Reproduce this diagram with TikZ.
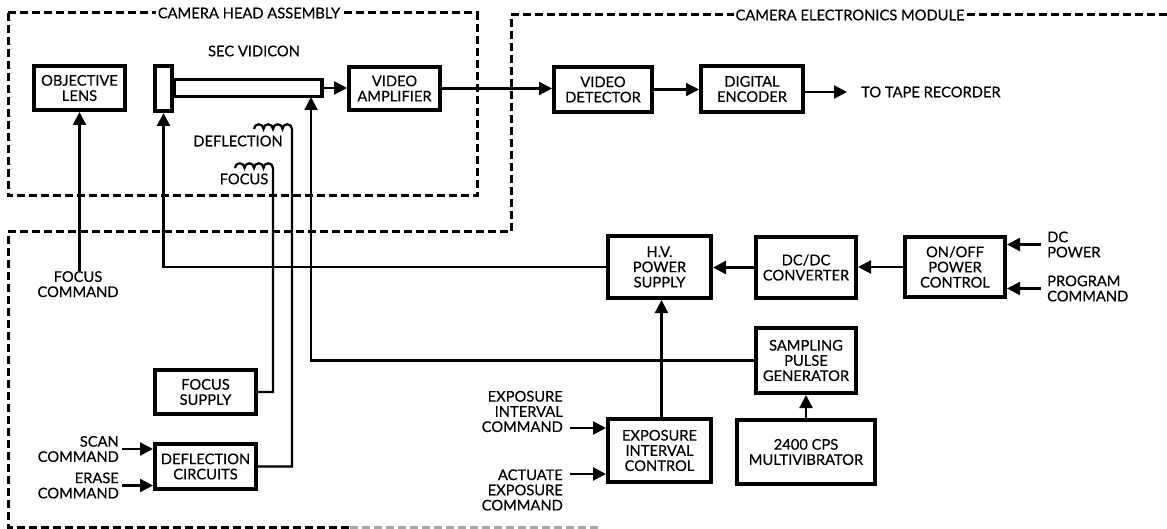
\documentclass[tikz,border=0pt]{standalone}
\usepackage{fontspec}
\setmainfont{Lato}[FakeBold=0.35]
\usetikzlibrary{arrows.meta,positioning,calc}
\tikzset{
  blockbox/.style={draw=black,line width=3.6pt,inner sep=0pt,align=center},
  sigline/.style={draw=black,line width=2.2pt},
  sigarrow/.style={sigline,-{Triangle[length=13pt,width=13pt]}},
  frameline/.style={draw=black,line width=3pt,dash pattern=on 8pt off 4pt},
  framelabel/.style={fill=white,inner xsep=1.5pt,inner ysep=1pt},
  cmdlabel/.style={inner sep=0pt,align=right,anchor=east},
  inlabel/.style={inner sep=0pt,align=left,anchor=west},
}
\begin{document}
\begin{tikzpicture}[x=1pt,y=-1pt,font=\fontsize{14.7}{15.2}\selectfont]
  \useasboundingbox (0,0) rectangle (1167,529);
  % dashed enclosures
  \draw[frameline] (8,13) rectangle (477,196);
  \draw[frameline] (1167,15) -- (511,15) -- (511,232) -- (8,232) -- (8,527) -- (350,527);
  \draw[frameline,draw=black!35] (350,527) -- (602,527);
  \node[framelabel] (headlabel) at (249,13) {CAMERA HEAD ASSEMBLY};
  \node[framelabel] (modulelabel) at (850,15) {CAMERA ELECTRONICS MODULE};
  % blocks: left/top/right/bottom in picture pixels
  \foreach \nm/\xa/\ya/\xb/\yb/\txt in {
    lens/32/64/127/112/{OBJECTIVE\\LENS},
    gun/153/64/174/113/{},
    amp/347/65/442/112/{VIDEO\\AMPLIFIER},
    detector/552/65/654/114/{VIDEO\\DETECTOR},
    encoder/699/64/805/114/{DIGITAL\\ENCODER},
    hvsupply/606/234/713/300/{H.V.\\POWER\\SUPPLY},
    dcdc/754/235/858/300/{DC/DC\\CONVERTER},
    onoff/903/235/1007/299/{ON/OFF\\POWER\\CONTROL},
    sampler/754/326/858/395/{SAMPLING\\PULSE\\GENERATOR},
    multivib/735/418/877/486/{2400 CPS\\MULTIVIBRATOR},
    expctrl/606/417/713/484/{EXPOSURE\\INTERVAL\\CONTROL},
    focsupply/153/368/258/416/{FOCUS\\SUPPLY},
    deflcirc/153/442/258/491/{DEFLECTION\\CIRCUITS}} {
    \node[blockbox,minimum width={\xb-\xa-3.6},minimum height={\yb-\ya-3.6}] (\nm)
      at ({(\xa+\xb)/2},{(\ya+\yb)/2}) {\txt};
  }
  \node[blockbox,minimum width=148pt,minimum height=17pt] (tube) at (248,88) {};
  \node (seclabel) at (254,51) {SEC VIDICON};
  \node (defllabel) at (238,141) {DEFLECTION};
  \node (foclabel) at (244,179) {FOCUS};
  % signal chain
  \draw[sigarrow] (tube.east) -- (tube.east -| amp.west);
  \draw[sigarrow] (amp.east) -- (amp.east -| detector.west);
  \draw[sigarrow] (detector.east) -- (detector.east -| encoder.west);
  \node[inlabel] (taperec) at (861,92) {TO TAPE RECORDER};
  \draw[sigarrow,shorten >=14pt] ([yshift=-3pt]encoder.east) -- (taperec.west);
  % power and timing
  \draw[sigarrow] (onoff.west) -- (onoff.west -| dcdc.east);
  \draw[sigarrow] (dcdc.west) -- (dcdc.west -| hvsupply.east);
  \draw[sigarrow] (hvsupply.west) -| (gun.south);
  \coordinate (tubein) at (311,97);
  \draw[sigarrow] (sampler.west) -| (tubein);
  \draw[sigarrow] ([xshift=2pt]expctrl.north) -- ([xshift=2pt]hvsupply.south);
  \draw[sigarrow] (multivib.north) -- (sampler.south);
  % command inputs
  \node[inner sep=0pt,align=center,anchor=north] (focuscmd) at (78,271) {FOCUS\\COMMAND};
  \draw[sigarrow] (focuscmd.north -| lens.south) -- (lens.south);
  \node[cmdlabel] (scancmd) at (119,449) {SCAN\\COMMAND};
  \node[cmdlabel] (erasecmd) at (119,485.5) {ERASE\\COMMAND};
  \draw[sigarrow,shorten <=3pt] (scancmd.east) -- (scancmd.east -| deflcirc.west);
  \draw[sigarrow,shorten <=3pt] (erasecmd.east) -- (erasecmd.east -| deflcirc.west);
  \node[cmdlabel] (expcmd) at (563,411.5) {EXPOSURE\\INTERVAL\\COMMAND};
  \node[cmdlabel] (actcmd) at (563,490) {ACTUATE\\EXPOSURE\\COMMAND};
  \coordinate (expin) at (570,428);
  \coordinate (actin) at (570,474);
  \draw[sigarrow] (expin) -- (expin -| expctrl.west);
  \draw[sigarrow] (actin) -- (actin -| expctrl.west);
  \node[inlabel] (dccmd) at (1047,244.5) {DC\\POWER};
  \node[inlabel] (progcmd) at (1047,288.5) {PROGRAM\\COMMAND};
  \draw[sigarrow,shorten <=6pt] (dccmd.west) -- (dccmd.west -| onoff.east);
  \draw[sigarrow,shorten <=6pt] (progcmd.west) -- (progcmd.west -| onoff.east);
  % coils
  \coordinate (foccoil) at (273,168);
  \coordinate (deflcoil) at (292,129);
  \draw[sigline] (focsupply.east) -| (foccoil)
    \foreach \i in {1,2,3,4} {arc[start angle=360,end angle=180,radius=4.75]};
  \draw[sigline] (deflcirc.east) -| (deflcoil)
    \foreach \i in {1,2,3,4} {arc[start angle=360,end angle=180,radius=4.75]};
\end{tikzpicture}
\end{document}
